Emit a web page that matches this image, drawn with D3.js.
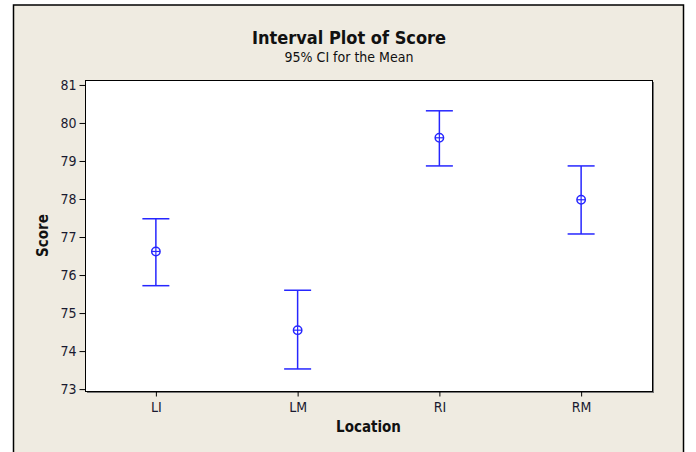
<!DOCTYPE html>
<html>
<head>
<meta charset="utf-8">
<script src="https://cdn.jsdelivr.net/npm/d3@7"></script>
<style>
  body { margin: 0; background: #fff; }
  svg text { font-family: "DejaVu Sans Condensed", "DejaVu Sans", sans-serif; font-stretch: condensed; }
</style>
</head>
<body>
<div id="chart"></div>
<script>
const locations = ["LI", "LM", "RI", "RM"];
const means = [76.62, 74.55, 79.61, 77.98];
const upper = [77.48, 75.6, 80.32, 78.87];
const lower = [75.72, 73.53, 78.87, 77.08];
const yTicks = [73, 74, 75, 76, 77, 78, 79, 80, 81];

const width = 696;
const height = 452;
const margin = { top: 80, bottom: 61, left: 85, right: 44 };
const blue = "#2626ff";

const svg = d3
  .select("#chart")
  .append("svg")
  .attr("width", width)
  .attr("height", height);

// beige figure background with frame
svg.append("rect").attr("x", 0).attr("y", 0).attr("width", width).attr("height", height).attr("fill", "#fff");
svg
  .append("rect")
  .attr("x", 13.5)
  .attr("y", 5)
  .attr("width", 670)
  .attr("height", 460)
  .attr("fill", "#efebe1")
  .attr("stroke", "#000")
  .attr("stroke-width", 1.5);

const plotW = width - margin.left - margin.right;
const plotH = height - margin.top - margin.bottom;

const g = svg.append("g").attr("transform", "translate(" + margin.left + "," + margin.top + ")");

const x = d3.scalePoint().domain(locations).range([0, plotW]).padding(0.5);
const y = d3.scaleLinear().domain([72.95, 81.13]).range([plotH, 0]);

// plot area with shadow
g.append("rect").attr("x", 2).attr("y", 2).attr("width", plotW).attr("height", plotH).attr("fill", "#777");
g.append("rect")
  .attr("x", 0.5)
  .attr("y", 0.5)
  .attr("width", plotW)
  .attr("height", plotH)
  .attr("fill", "#fff")
  .attr("stroke", "#000")
  .attr("stroke-width", 1);

// axes
const yAxis = g.append("g").attr("transform", "translate(0.5,0)").call(d3.axisLeft(y).tickValues(yTicks).tickSize(6).tickPadding(3));
yAxis.select(".domain").remove();
yAxis.selectAll("text").style("font-size", "14px").attr("fill", "#1a1a30");

const xAxis = g
  .append("g")
  .attr("transform", "translate(0," + (plotH + 0.5) + ")")
  .call(d3.axisBottom(x).tickSize(5).tickPadding(6));
xAxis.select(".domain").remove();
xAxis.selectAll("text").style("font-size", "14px").attr("fill", "#1a1a30");

// titles
svg
  .append("text")
  .attr("x", 349)
  .attr("y", 44)
  .attr("text-anchor", "middle")
  .style("font-size", "18px")
  .style("font-weight", "bold")
  .attr("fill", "#111")
  .text("Interval Plot of Score");

svg
  .append("text")
  .attr("x", 349)
  .attr("y", 62)
  .attr("text-anchor", "middle")
  .style("font-size", "14px")
  .attr("fill", "#111")
  .text("95% CI for the Mean");

svg
  .append("text")
  .attr("x", margin.left + plotW / 2)
  .attr("y", 432)
  .attr("text-anchor", "middle")
  .style("font-size", "15px")
  .style("font-weight", "bold")
  .attr("fill", "#111")
  .text("Location");

svg
  .append("text")
  .attr("transform", "translate(48," + (margin.top + plotH / 2) + ") rotate(-90)")
  .attr("text-anchor", "middle")
  .style("font-size", "15px")
  .style("font-weight", "bold")
  .attr("fill", "#111")
  .text("Score");

// intervals
const rows = locations.map((loc, i) => ({ loc: loc, mean: means[i], hi: upper[i], lo: lower[i] }));
const cap = 13.5;

const item = g.selectAll(".interval").data(rows).enter().append("g").attr("class", "interval");

item
  .append("line")
  .attr("x1", (d) => x(d.loc))
  .attr("x2", (d) => x(d.loc))
  .attr("y1", (d) => y(d.hi))
  .attr("y2", (d) => y(d.lo))
  .attr("stroke", blue)
  .attr("stroke-width", 1.5);

["hi", "lo"].forEach((k) => {
  item
    .append("line")
    .attr("x1", (d) => x(d.loc) - cap)
    .attr("x2", (d) => x(d.loc) + cap)
    .attr("y1", (d) => y(d[k]))
    .attr("y2", (d) => y(d[k]))
    .attr("stroke", blue)
    .attr("stroke-width", 1.5);
});

item
  .append("circle")
  .attr("cx", (d) => x(d.loc))
  .attr("cy", (d) => y(d.mean))
  .attr("r", 4.2)
  .attr("fill", "#fff")
  .attr("stroke", blue)
  .attr("stroke-width", 1.5);

item
  .append("line")
  .attr("x1", (d) => x(d.loc) - 4)
  .attr("x2", (d) => x(d.loc) + 4)
  .attr("y1", (d) => y(d.mean))
  .attr("y2", (d) => y(d.mean))
  .attr("stroke", blue)
  .attr("stroke-width", 1.2);

item
  .append("line")
  .attr("x1", (d) => x(d.loc))
  .attr("x2", (d) => x(d.loc))
  .attr("y1", (d) => y(d.mean) - 4)
  .attr("y2", (d) => y(d.mean) + 4)
  .attr("stroke", blue)
  .attr("stroke-width", 1.2);
</script>
</body>
</html>
